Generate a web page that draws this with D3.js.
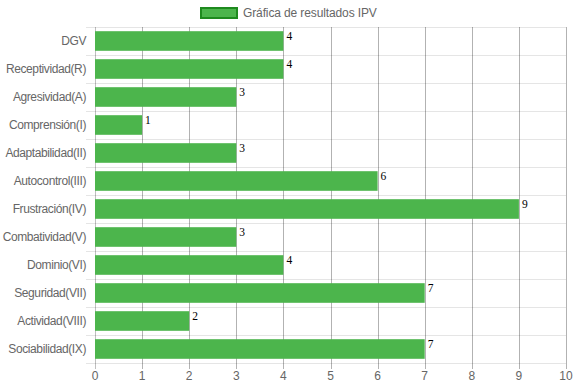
<!DOCTYPE html>
<html>
<head>
<meta charset="utf-8">
<script src="https://cdn.jsdelivr.net/npm/d3@7"></script>
<style>
  body { margin: 0; background: #fff; }
  svg { display: block; }
</style>
</head>
<body>
<svg id="chart" width="575" height="387"></svg>
<script>
// chart data
let categories = [
  "DGV", "Receptividad(R)", "Agresividad(A)", "Comprensión(I)",
  "Adaptabilidad(II)", "Autocontrol(III)", "Frustración(IV)", "Combatividad(V)",
  "Dominio(VI)", "Seguridad(VII)", "Actividad(VIII)", "Sociabilidad(IX)",
];
let values = [4, 4, 3, 1, 3, 6, 9, 3, 4, 7, 2, 7];
let xTicks = [0, 1, 2, 3, 4, 5, 6, 7, 8, 9, 10];
let seriesName = "Gráfica de resultados IPV";

let barColor = "#4cb54c";
let borderColor = "#1e8a1e";
let labelFont = "'Liberation Sans', Arial, sans-serif";

let svg = d3.select("#chart");

let plotLeft = 95, plotRight = 566, plotTop = 27, plotBottom = 363;

let x = d3.scaleLinear().domain([0, 10]).range([plotLeft, plotRight]);
let y = d3.scaleBand().domain(categories).range([plotTop, plotBottom]).paddingInner(0.3).paddingOuter(0.15);
let yLines = d3.scaleBand().domain(categories).range([plotTop, plotBottom]);

// horizontal gridlines (band boundaries)
let hLines = categories.map((c) => yLines(c)).concat([plotBottom]);
svg.append("g")
  .selectAll("line")
  .data(hLines)
  .enter()
  .append("line")
  .attr("x1", plotLeft - 9)
  .attr("x2", plotRight)
  .attr("y1", (d) => Math.round(d) + 0.5)
  .attr("y2", (d) => Math.round(d) + 0.5)
  .attr("stroke", "rgba(0,0,0,0.1)");

// vertical gridlines
svg.append("g")
  .selectAll("line")
  .data(xTicks)
  .enter()
  .append("line")
  .attr("x1", (d) => Math.round(x(d)) + 0.5)
  .attr("x2", (d) => Math.round(x(d)) + 0.5)
  .attr("y1", plotTop)
  .attr("y2", plotBottom + 6)
  .attr("stroke", (d) => (d === 0 ? "rgba(0,0,0,0.25)" : "rgba(0,0,0,0.3)"));

// bars
svg.append("g")
  .selectAll("rect")
  .data(values)
  .enter()
  .append("rect")
  .attr("x", x(0))
  .attr("y", (d, i) => y(categories[i]))
  .attr("width", (d) => x(d) - x(0))
  .attr("height", y.bandwidth())
  .attr("fill", barColor);

// value labels
svg.append("g")
  .selectAll("text")
  .data(values)
  .enter()
  .append("text")
  .attr("x", (d) => x(d) + 3)
  .attr("y", (d, i) => y(categories[i]) + 9)
  .attr("font-family", "'Liberation Serif', 'DejaVu Serif', serif")
  .attr("font-size", 11.5)
  .attr("fill", "#000")
  .text((d) => d);

// category labels
svg.append("g")
  .selectAll("text")
  .data(categories)
  .enter()
  .append("text")
  .attr("x", plotLeft - 9)
  .attr("y", (d) => yLines(d) + yLines.bandwidth() / 2)
  .attr("dy", "0.35em")
  .attr("text-anchor", "end")
  .attr("font-family", labelFont)
  .attr("font-size", 12)
  .attr("letter-spacing", -0.4)
  .attr("fill", "#666")
  .text((d) => d);

// x tick labels
svg.append("g")
  .selectAll("text")
  .data(xTicks)
  .enter()
  .append("text")
  .attr("x", (d) => x(d))
  .attr("y", plotBottom + 13)
  .attr("dy", "0.35em")
  .attr("text-anchor", "middle")
  .attr("font-family", labelFont)
  .attr("font-size", 12)
  .attr("fill", "#666")
  .text((d) => d);

// legend
let legend = svg.append("g").attr("transform", "translate(200,7)");
legend.append("rect")
  .attr("x", 1)
  .attr("y", 1)
  .attr("width", 36)
  .attr("height", 10)
  .attr("fill", barColor)
  .attr("stroke", borderColor)
  .attr("stroke-width", 2);
legend.append("text")
  .attr("x", 43)
  .attr("y", 6)
  .attr("dy", "0.35em")
  .attr("font-family", labelFont)
  .attr("font-size", 12)
  .attr("letter-spacing", -0.12)
  .attr("fill", "#666")
  .text(seriesName);
</script>
</body>
</html>
